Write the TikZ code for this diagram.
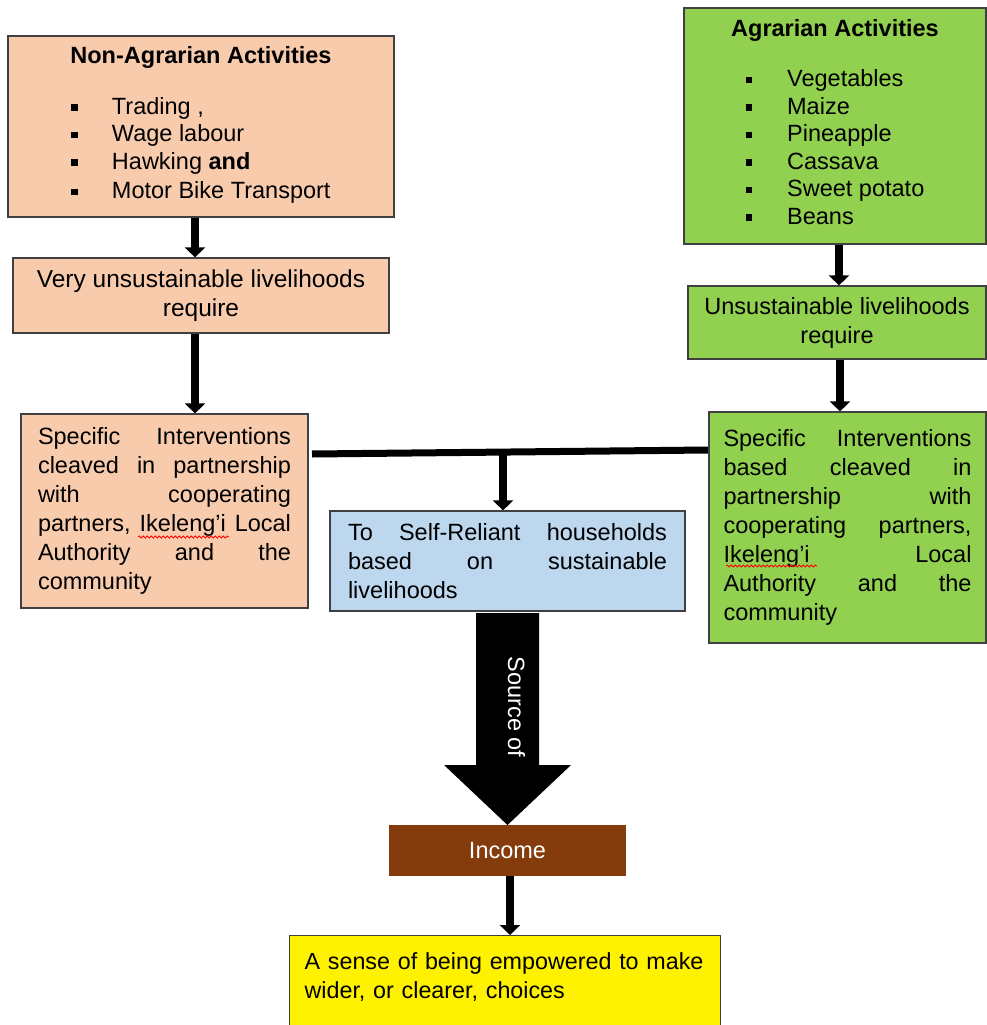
\documentclass[tikz,border=0pt]{standalone}
\usepackage{fontspec}
\setmainfont{Liberation Sans}
\usetikzlibrary{arrows.meta,decorations.pathmorphing}
\pgfdeclarelayer{edgelayer}
\pgfdeclarelayer{nodelayer}
\pgfsetlayers{edgelayer,nodelayer,main}
\definecolor{peach}{HTML}{F8CBAD}
\definecolor{leaf}{HTML}{92D050}
\definecolor{sky}{HTML}{BDD7EE}
\definecolor{rust}{HTML}{843C0C}
\tikzset{font=\fontsize{23.5}{29}\selectfont}
\tikzstyle{boxed}=[draw=black!75,line width=1.2pt,inner sep=4pt]
\tikzstyle{peachbox}=[boxed,fill=peach]
\tikzstyle{greenbox}=[boxed,fill=leaf]
\tikzstyle{bluebox}=[boxed,fill=sky]
\tikzstyle{yellowbox}=[boxed,fill=yellow]
\tikzstyle{incomebox}=[fill=rust,text=white,inner sep=4pt]
\tikzstyle{arr}=[line width=8pt,-{Triangle[width=20pt,length=10pt]}]
\tikzstyle{squiggle}=[red,line width=0.8pt,decorate,decoration={snake,amplitude=1pt,segment length=4pt}]
\newcommand{\blt}{\rule[3.5pt]{6.5pt}{6.5pt}}
% justified line: words spread over the given width
\newcommand{\jl}[2]{\noindent\hbox to #1{#2}}
\renewcommand{\arraystretch}{0.95}

\begin{document}
\begin{tikzpicture}[x=1pt,y=-1pt]
	\useasboundingbox (0,0) rectangle (987,1025);
	\begin{pgfonlayer}{nodelayer}
		\node [peachbox, minimum width=386pt, minimum height=181pt, align=center] (nonagr) at (201,126.5) {\textbf{Non-Agrarian Activities}\\[22pt]
			\begin{tabular}[t]{@{}l@{\hspace{34pt}}l@{}}
				\blt & Trading ,\\
				\blt & Wage labour\\
				\blt & Hawking \textbf{and}\\[2pt]
				\blt & Motor Bike Transport
			\end{tabular}};
		\node [greenbox, minimum width=302pt, minimum height=236pt, align=center] (agr) at (835,126) {\textbf{Agrarian Activities}\\[21pt]
			\begin{tabular}[t]{@{}l@{\hspace{35pt}}l@{}}
				\blt & Vegetables\\
				\blt & Maize\\
				\blt & Pineapple\\
				\blt & Cassava\\
				\blt & Sweet potato\\
				\blt & Beans
			\end{tabular}};
		\node [peachbox, minimum width=376pt, minimum height=75pt, align=center, font=\fontsize{24.5}{29}\selectfont] (veryU) at (201,295.5) {Very unsustainable livelihoods\\require};
		\node [greenbox, minimum width=298pt, minimum height=73pt, align=center] (unsus) at (837,322.5) {Unsustainable livelihoods\\require};
		\node [peachbox, minimum width=287pt, minimum height=194pt, text width=253pt, align=left] (specL) at (164.5,511) {\jl{253pt}{Specific\hfill Interventions}\\
			\jl{253pt}{cleaved\hfill in\hfill partnership}\\
			\jl{253pt}{with\hfill cooperating}\\
			\jl{253pt}{partners,\hfill Ikeleng’i\hfill Local}\\
			\jl{253pt}{Authority\hfill and\hfill the}\\
			community};
		\node [greenbox, minimum width=277pt, minimum height=231pt, text width=248pt, align=left] (specR) at (847.5,527.5) {\jl{248pt}{Specific\hfill Interventions}\\
			\jl{248pt}{based\hfill cleaved\hfill in}\\
			\jl{248pt}{partnership\hfill with}\\
			\jl{248pt}{cooperating\hfill partners,}\\
			\jl{248pt}{Ikeleng’i\hfill Local}\\
			\jl{248pt}{Authority\hfill and\hfill the}\\
			community};
		\node [bluebox, minimum width=355pt, minimum height=100pt, text width=319pt, align=left] (self) at (507.5,561) {\jl{319pt}{To\hfill Self-Reliant\hfill households}\\
			\jl{319pt}{based\hfill on\hfill sustainable}\\
			livelihoods};
		\node [incomebox, minimum width=237pt, minimum height=51pt] (income) at (507.5,850.5) {Income};
		\node [yellowbox, anchor=north west, minimum width=431pt, text width=401pt, align=left, inner ysep=17pt, text depth=80pt, font=\fontsize{23.3}{29}\selectfont] (sense) at (289,935) {A sense of being empowered to make\\wider, or clearer, choices};
		\node [text=white, rotate=-90] (source) at (516.5,707) {Source of};
	\end{pgfonlayer}
	\begin{pgfonlayer}{edgelayer}
		\coordinate (joinL) at (312,454);
		\coordinate (joinR) at (specR.west |- 0,450);
		\coordinate (joinM) at (503,452);
		\draw [arr] ([xshift=-6pt]nonagr.south) to ([xshift=-6pt]veryU.north);
		\draw [arr] ([xshift=-6pt]veryU.south) to ([xshift=-6pt]veryU.south |- specL.north);
		\draw [arr] ([xshift=4pt]agr.south) to ([xshift=4pt]agr.south |- unsus.north);
		\draw [arr] ([xshift=3pt]unsus.south) to ([xshift=3pt]unsus.south |- specR.north);
		\draw [line width=7pt] (joinL) to (joinR);
		\draw [arr] (joinM) to (joinM |- self.north);
		% big block arrow
		\fill (476,613) -- (539,613) -- (539,765) -- (571,765) -- (507.5,825) -- (444,765) -- (476,765) -- cycle;
		\draw [arr] ([xshift=2.5pt]income.south) to ([xshift=2.5pt]income.south |- sense.north);
	\end{pgfonlayer}
	\draw [squiggle] (138,537) -- (229,537);
	\draw [squiggle] (726,566) -- (817,566);
\end{tikzpicture}
\end{document}
